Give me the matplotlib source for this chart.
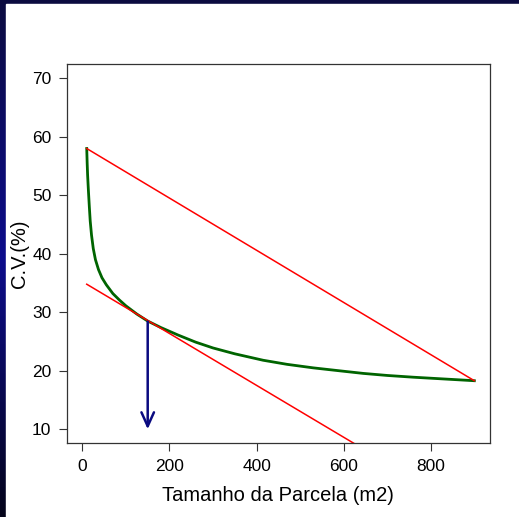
import numpy as np
import matplotlib.pyplot as plt
from matplotlib.colors import LinearSegmentedColormap

plt.rcParams['font.family'] = ['Liberation Sans', 'DejaVu Sans']

# curva C.V. x tamanho da parcela
tamanho = [10, 11, 12, 13, 14, 16, 18, 21, 25, 30, 37, 45, 55, 70, 85, 100, 125, 150,
           180, 220, 260, 300, 350, 415, 470, 530, 590, 645, 700, 760, 830, 900]
cv = [58.0, 55.5, 53.5, 52.0, 50.6, 48.0, 45.6, 43.2, 40.9, 39.0, 37.3, 35.9, 34.7, 33.2,
      32.1, 31.1, 29.7, 28.5, 27.4, 26.1, 24.9, 23.9, 22.9, 21.8, 21.1, 20.5, 20.0, 19.55,
      19.2, 18.9, 18.6, 18.3]

# reta entre os extremos da curva
corda_x = [10, 900]
corda_y = [58.0, 18.3]

# reta tangente no ponto de máxima curvatura
tang_x = [10, 700]
tang_y = [34.8, 4.2]

# seta indicando o tamanho ótimo
seta_x = 150
seta_y = [28.4, 10.0]

fig = plt.figure(figsize=(5.19, 5.17), dpi=100)

# fundo tipo slide (gradiente azul escuro)
bg = fig.add_axes([0, 0, 1, 1], zorder=-10)
cmap = LinearSegmentedColormap.from_list('slide', ['#0b0b40', '#0d0d8c', '#04041a'])
bg.imshow(np.linspace(0, 1, 256).reshape(-1, 1), aspect='auto', cmap=cmap,
          extent=[0, 1, 0, 1])
bg.add_patch(plt.Rectangle((6 / 519, 0), 1, 1 - 4 / 517, color='white'))
bg.set_xlim(0, 1)
bg.set_ylim(0, 1)
bg.axis('off')

ax = fig.add_axes([66.7 / 519, 1 - 443.3 / 517, (490 - 66.7) / 519, (443.3 - 64.3) / 517])
ax.plot(tamanho, cv, color='#006400', lw=2.0, solid_joinstyle='round')
ax.plot(corda_x, corda_y, color='red', lw=1.1)
ax.plot(tang_x, tang_y, color='red', lw=1.1)
ax.annotate('', xy=(seta_x, seta_y[1]), xytext=(seta_x, seta_y[0]),
            arrowprops=dict(arrowstyle='->,head_length=1.0,head_width=0.45',
                            color='#0a0a80', lw=1.8, shrinkA=0, shrinkB=0))

ax.set_xlim(-36, 936)
ax.set_ylim(7.6, 72.4)
ax.set_xticks([0, 200, 400, 600, 800])
ax.set_yticks([10, 20, 30, 40, 50, 60, 70])
ax.tick_params(length=6, width=0.8, pad=5, labelsize=12.5, color='#333333')
for s in ax.spines.values():
    s.set_linewidth(0.9)
    s.set_color('#333333')
ax.set_xlabel('Tamanho da Parcela (m2)', fontsize=14.5, labelpad=9)
ax.set_ylabel('C.V.(%)', fontsize=14.5, labelpad=2)

fig.savefig('out.png', dpi=100)
